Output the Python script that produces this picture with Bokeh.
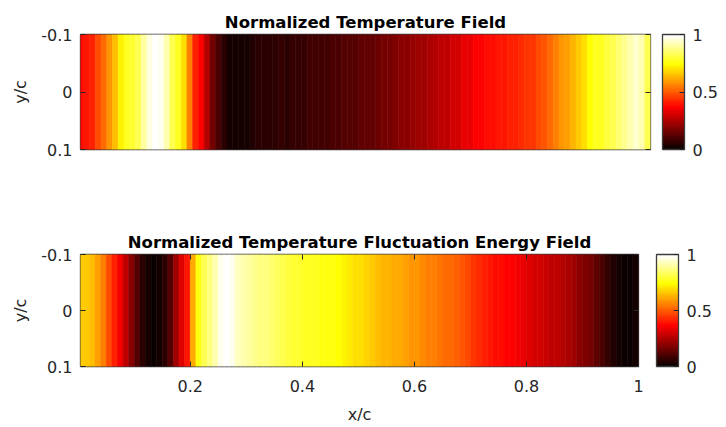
from bokeh.plotting import figure
from bokeh.models import (ColumnDataSource, LinearColorMapper, ColorBar,
                          FixedTicker, LinearAxis, Range1d)
from bokeh.layouts import column
from bokeh.embed import file_html
from bokeh.resources import INLINE

# ---------------- data ----------------
x_centers = [round(0.005 + 0.01 * i, 3) for i in range(100)]
cell_half = 0.005

temperature = [
    0.38, 0.40, 0.42, 0.47, 0.52, 0.58, 0.65, 0.72, 0.77, 0.79,
    0.82, 0.90, 0.96, 0.99, 0.97, 0.92, 0.82, 0.77, 0.70, 0.55,
    0.42, 0.36, 0.25, 0.16, 0.10, 0.06, 0.03, 0.02, 0.02, 0.03,
    0.04, 0.05, 0.05, 0.06, 0.06, 0.07, 0.06, 0.07, 0.07, 0.07,
    0.08, 0.08, 0.09, 0.09, 0.10, 0.10, 0.11, 0.11, 0.12, 0.13,
    0.14, 0.14, 0.15, 0.16, 0.17, 0.18, 0.19, 0.20, 0.21, 0.22,
    0.23, 0.24, 0.26, 0.27, 0.28, 0.30, 0.31, 0.33, 0.34, 0.36,
    0.37, 0.38, 0.39, 0.40, 0.40, 0.41, 0.42, 0.43, 0.44, 0.45,
    0.47, 0.49, 0.52, 0.55, 0.58, 0.60, 0.63, 0.66, 0.70, 0.74,
    0.77, 0.78, 0.80, 0.82, 0.85, 0.88, 0.92, 0.95, 0.92, 0.82,
]

fluctuation = [
    0.67, 0.67, 0.65, 0.60, 0.55, 0.48, 0.41, 0.35, 0.27, 0.19,
    0.11, 0.05, 0.02, 0.01, 0.02, 0.05, 0.12, 0.22, 0.32, 0.40,
    0.62, 0.75, 0.82, 0.86, 0.92, 0.97, 0.99, 0.97, 0.93, 0.91,
    0.90, 0.88, 0.87, 0.86, 0.85, 0.83, 0.82, 0.80, 0.79, 0.79,
    0.78, 0.78, 0.77, 0.76, 0.76, 0.75, 0.74, 0.72, 0.71, 0.70,
    0.70, 0.68, 0.67, 0.65, 0.64, 0.63, 0.62, 0.61, 0.60, 0.59,
    0.58, 0.57, 0.56, 0.55, 0.54, 0.53, 0.52, 0.50, 0.49, 0.47,
    0.45, 0.43, 0.41, 0.40, 0.39, 0.38, 0.37, 0.36, 0.35, 0.34,
    0.32, 0.31, 0.30, 0.29, 0.28, 0.27, 0.25, 0.24, 0.22, 0.20,
    0.18, 0.16, 0.13, 0.10, 0.07, 0.04, 0.02, 0.01, 0.01, 0.03,
]

titles = ["Normalized Temperature Field",
          "Normalized Temperature Fluctuation Energy Field"]
x_ticks = [0.2, 0.4, 0.6, 0.8, 1]
x_tick_labels = ["0.2", "0.4", "0.6", "0.8", "1"]
y_ticks = [-0.1, 0, 0.1]
y_tick_labels = ["-0.1", "0", "0.1"]
cbar_ticks = [0, 0.5, 1]
cbar_tick_labels = ["0", "0.5", "1"]
x_label = "x/c"
y_label = "y/c"

# ---------------- style ----------------
FONT = "DejaVu Sans"
AX = "#262626"
BOX = "#3c3c3c"
FIG_W = 722


def hot_palette(n=64):
    n1 = int(3 * n / 8)
    n2 = n1
    n3 = n - n1 - n2
    cols = []
    for i in range(n):
        r = min(1.0, (i + 1) / n1)
        g = 0.0 if i < n1 else min(1.0, (i + 1 - n1) / n2)
        b = 0.0 if i < n1 + n2 else (i + 1 - n1 - n2) / n3
        cols.append("#%02x%02x%02x" % (round(r * 255), round(g * 255), round(b * 255)))
    return cols


mapper = LinearColorMapper(palette=hot_palette(64), low=0, high=1)


def style_axis(ax, ticks, labels, show_labels=True, standoff=8):
    ax.ticker = FixedTicker(ticks=ticks)
    if show_labels:
        ax.major_label_overrides = dict(zip(ticks, labels))
        ax.major_label_standoff = standoff
    else:
        ax.major_label_overrides = {t: "" for t in ticks}
        ax.major_label_standoff = 0
    ax.major_tick_in = 5
    ax.major_tick_out = 0
    ax.minor_tick_line_color = None
    ax.axis_line_color = None
    ax.major_tick_line_color = AX
    ax.major_tick_line_width = 1
    ax.major_label_text_font = FONT
    ax.major_label_text_color = AX
    ax.major_label_text_font_size = "16px"
    ax.axis_label_text_font = FONT
    ax.axis_label_text_font_size = "16px"
    ax.axis_label_text_font_style = "normal"
    ax.axis_label_text_color = AX


def make_panel(values, title, frame_w, frame_h, b_top, b_bottom, cb_gap, show_x,
               x_std=13, xl_std=10):
    p = figure(frame_width=frame_w, frame_height=frame_h,
               output_backend="svg", toolbar_location=None,
               x_range=Range1d(0.004, 1), y_range=Range1d(0.1, -0.1),
               min_border_left=80, min_border_top=b_top,
               min_border_bottom=b_bottom, min_border_right=FIG_W - 80 - frame_w)
    p.title.text = title
    p.title.text_font = FONT
    p.title.text_font_size = "16.5px"
    p.title.text_font_style = "bold"
    p.title.text_color = "#000000"
    p.title.align = "center"
    p.title.standoff = 5
    p.xgrid.visible = False
    p.ygrid.visible = False
    p.outline_line_color = BOX
    p.outline_line_width = 1.3
    p.background_fill_color = "white"
    p.border_fill_color = "white"

    src = ColumnDataSource(dict(
        left=[x - cell_half for x in x_centers],
        right=[x + cell_half for x in x_centers],
        v=values,
    ))
    p.quad(left="left", right="right", bottom=0.1, top=-0.1, source=src,
           fill_color={"field": "v", "transform": mapper},
           line_color={"field": "v", "transform": mapper}, line_width=0.6)

    style_axis(p.yaxis[0], y_ticks, y_tick_labels, True, 8)
    p.yaxis[0].axis_label = y_label
    p.yaxis[0].axis_label_standoff = 8

    ry = LinearAxis()
    style_axis(ry, y_ticks, y_tick_labels, False)
    p.add_layout(ry, "right")

    if show_x:
        style_axis(p.xaxis[0], x_ticks, x_tick_labels, True, x_std)
        p.xaxis[0].axis_label = x_label
        p.xaxis[0].axis_label_standoff = xl_std
        tx = LinearAxis()
        style_axis(tx, x_ticks, x_tick_labels, False)
        p.add_layout(tx, "above")
    else:
        p.xaxis.visible = False

    cb = ColorBar(color_mapper=mapper, ticker=FixedTicker(ticks=cbar_ticks),
                  major_label_overrides=dict(zip(cbar_ticks, cbar_tick_labels)),
                  width=22, height=frame_h, padding=0, margin=0,
                  location=(frame_w + cb_gap, 0),
                  label_standoff=8, major_tick_in=5, major_tick_out=0,
                  major_tick_line_color=AX, minor_tick_line_color=None,
                  bar_line_color=BOX, bar_line_width=1.3,
                  border_line_color=None, background_fill_color=None,
                  major_label_text_font=FONT, major_label_text_font_size="16px",
                  major_label_text_color=AX)
    p.add_layout(cb)
    return p


# top: frame x 80..650, y 34..149 ; bottom: frame x 80..638, y 254..366
p1 = make_panel(temperature, titles[0], 570, 115, 34, 71, 12, False)
p2 = make_panel(fluctuation, titles[1], 558, 112, 34, 61, 18, True)

layout = column(p1, p2, spacing=0)
open("out.html", "w").write(file_html(layout, INLINE))
